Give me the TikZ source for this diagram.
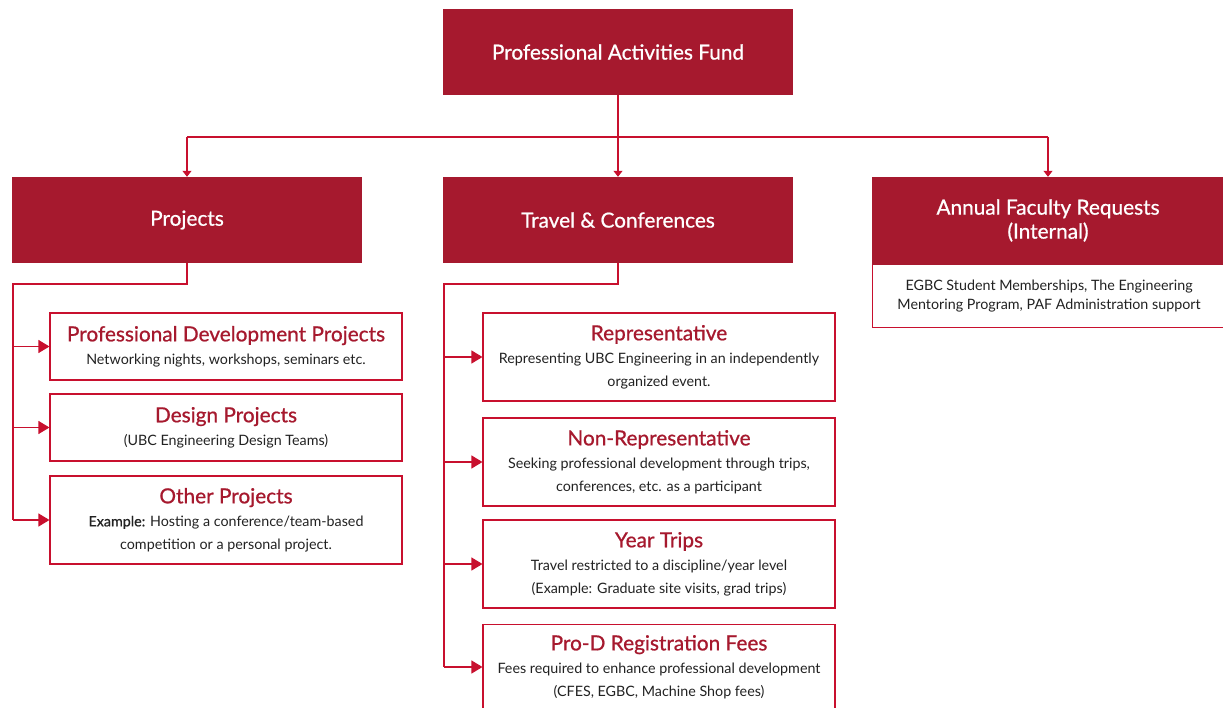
\documentclass[tikz,border=0pt]{standalone}
\usepackage{fontspec}
\setmainfont{Lato}
\newfontfamily\medfont{Lato}[FakeBold=0.8]
\usetikzlibrary{arrows.meta,calc}
\definecolor{ubcred}{HTML}{A6192E}
\definecolor{lnred}{HTML}{C8102E}
\definecolor{bodytxt}{HTML}{222222}
\newcommand{\ttl}[1]{{\medfont\fontsize{20.8}{24}\selectfont\color{ubcred}#1}}
\tikzset{
  x=1pt,y=-1pt,
  filledbox/.style={fill=ubcred,draw=none,text=white,inner sep=0,align=center,font=\medfont\fontsize{20.8}{25}\selectfont},
  subbox/.style={draw=lnred,line width=1.1pt,fill=white,inner sep=0,align=center,text=bodytxt,font=\fontsize{14.3}{23}\selectfont},
  conn/.style={draw=lnred,line width=1.1pt},
  smallarr/.style={conn,-{Triangle[length=6pt,width=9pt]}},
  bigarr/.style={conn,-{Triangle[length=11pt,width=13pt]}},
}
\begin{document}
\begin{tikzpicture}
\useasboundingbox (0,0) rectangle (1223,708);
% top level
\node[filledbox,minimum width=350,minimum height=86] (top) at (618,52) {Professional Activities Fund};
\node[filledbox,minimum width=350,minimum height=86] (proj) at (187,220) {Projects};
\node[filledbox,minimum width=350,minimum height=86] (trav) at (618,220) {Travel \& Conferences};
\node[filledbox,minimum width=352,minimum height=87] (ann) at (1048,220.5) {Annual Faculty Requests\\[-1pt](Internal)};
\node[subbox,anchor=north west,minimum width=353,minimum height=63,font=\fontsize{14.3}{19}\selectfont] (annb) at (872,264) {EGBC Student Memberships, The Engineering\\Mentoring Program, PAF Administration support};
\fill[ubcred] (ann.south west) rectangle ($(ann.south east)+(2,1)$);
% sub boxes left
\node[subbox,minimum width=352,minimum height=67] (pdp) at (226,346.5) {\ttl{Professional Development Projects}\\Networking nights, workshops, seminars etc.};
\node[subbox,minimum width=352,minimum height=67] (des) at (226,427.5) {\ttl{Design Projects}\\(UBC Engineering Design Teams)};
\node[subbox,minimum width=352,minimum height=88] (oth) at (226,520) {\ttl{Other Projects}\\{\medfont Example:} Hosting a conference/team-based\\competition or a personal project.};
% sub boxes middle
\node[subbox,minimum width=352,minimum height=88] (rep) at (659,357) {\ttl{Representative}\\Representing UBC Engineering in an independently\\organized event.};
\node[subbox,minimum width=352,minimum height=88] (nrep) at (659,462) {\ttl{Non-Representative}\\Seeking professional development through trips,\\conferences, etc. as a participant};
\node[subbox,minimum width=352,minimum height=88] (year) at (659,564) {\ttl{Year Trips}\\Travel restricted to a discipline/year level\\(Example: Graduate site visits, grad trips)};
\node[subbox,minimum width=352,minimum height=100,anchor=north] (prod) at (659,624) {};
\node[align=center,text=bodytxt,font=\fontsize{14.3}{23}\selectfont,inner sep=0] (prodt) at (659,667) {\ttl{Pro-D Registration Fees}\\Fees required to enhance professional development\\(CFES, EGBC, Machine Shop fees)};
% connectors top
\coordinate (hl) at (618,137);
\draw[conn] (top.south) -- (hl);
\draw[conn] (proj.north |- hl) -- (ann.north |- hl);
\draw[smallarr] (proj.north |- hl) -- (proj.north);
\draw[smallarr] (hl) -- (trav.north);
\draw[smallarr] (ann.north |- hl) -- (ann.north);
% left rail
\coordinate (lr) at (13,284);
\draw[conn] (proj.south) |- (lr) -- (lr |- oth.west);
\draw[bigarr] (lr |- pdp.west) -- (pdp.west);
\draw[bigarr] (lr |- des.west) -- (des.west);
\draw[bigarr] (lr |- oth.west) -- (oth.west);
% middle rail
\coordinate (mr) at (444,284);
\draw[conn] (trav.south) |- (mr) -- (mr |- prodt.west);
\draw[bigarr] (mr |- rep.west) -- (rep.west);
\draw[bigarr] (mr |- nrep.west) -- (nrep.west);
\draw[bigarr] (mr |- year.west) -- (year.west);
\draw[bigarr] (mr |- prodt.west) -- (prodt.west -| prod.west);
\end{tikzpicture}
\end{document}
